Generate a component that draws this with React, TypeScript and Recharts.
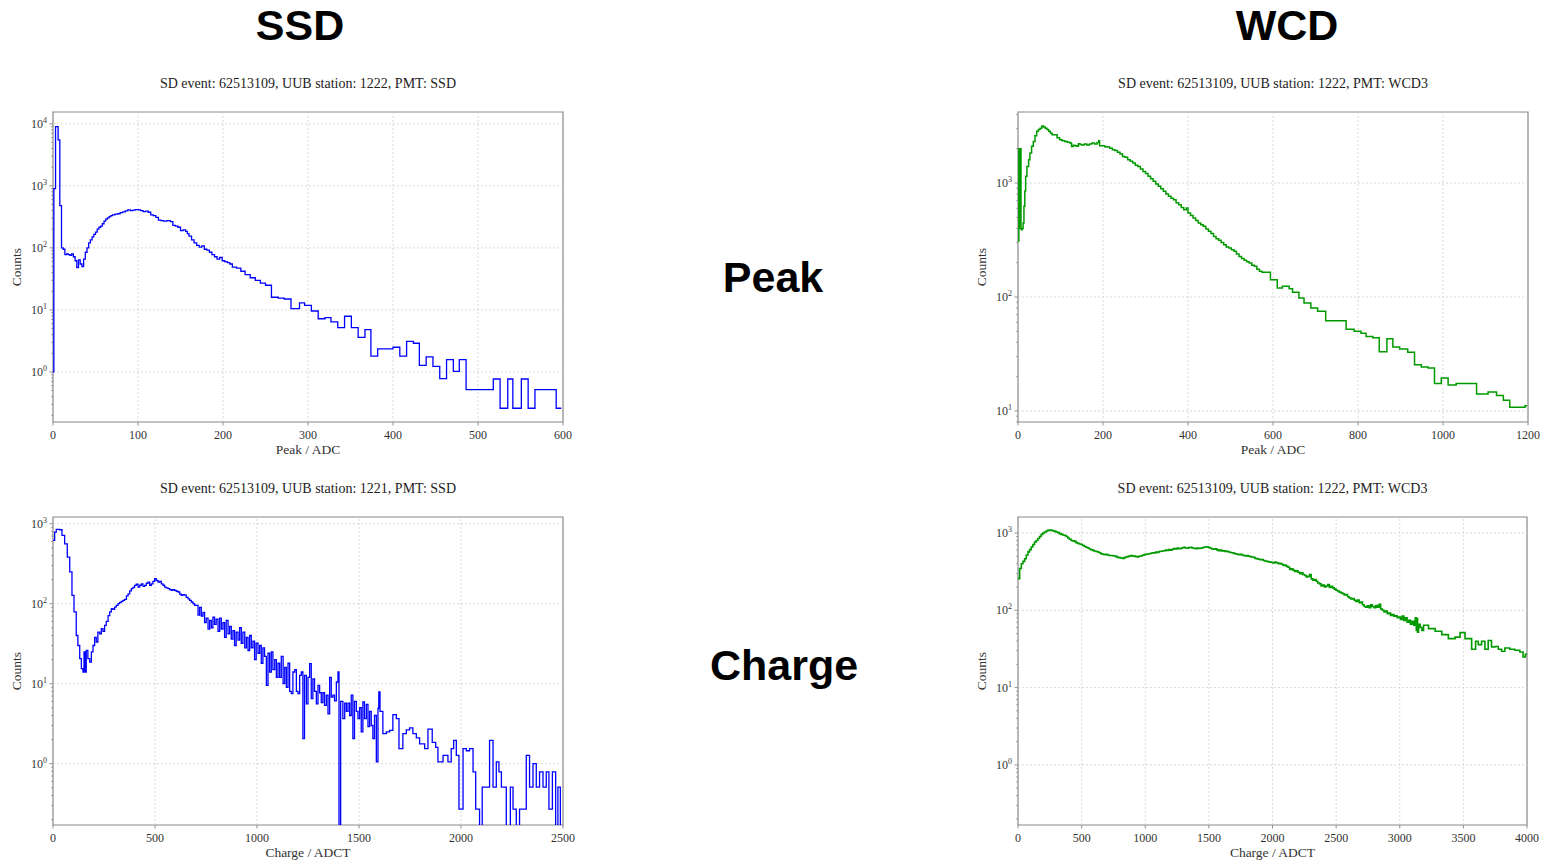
import React from "react";
import {
  Line,
  LineChart,
  ReferenceArea,
  ReferenceLine,
  XAxis,
  YAxis,
} from "recharts";

// ---- SSD peak histogram (bin start, counts) ----
const ssdPeakStarts = [
  0, 1, 3, 6, 8, 10, 12, 14, 16, 18, 20, 22, 24, 26, 28, 30, 32, 34, 36, 38,
  40, 42, 44, 46, 48, 50, 52, 54, 56, 58, 60, 62, 64, 66, 68, 70, 73, 76, 79,
  82, 85, 88, 91, 94, 97, 100, 103, 106, 109, 112, 115, 118, 121, 124, 127,
  130, 134, 138, 141, 144, 147, 150, 153, 156, 158, 160, 163, 166, 169, 172,
  175, 178, 181, 184, 187, 190, 193, 196, 199, 202, 205, 208, 211, 216, 221,
  226, 232, 238, 244, 250, 257, 265, 272, 280, 290, 296, 304, 312, 320, 327,
  335, 343, 351, 359, 367, 374, 382, 400, 408, 416, 424, 431, 439, 447, 455,
  463, 471, 478, 486, 518, 526, 535, 541, 551, 559, 567, 592, 598,
];
const ssdPeakCounts = [
  1, 900, 9000, 5500, 480, 100, 95, 78, 80, 78, 76, 80, 72, 62, 48, 64, 55, 50,
  66, 85, 100, 120, 135, 150, 165, 180, 200, 215, 225, 245, 270, 290, 305, 320,
  330, 340, 350, 355, 370, 380, 395, 410, 400, 405, 415, 410, 400, 385, 390,
  375, 340, 330, 310, 280, 275, 270, 275, 265, 230, 225, 215, 190, 195, 185,
  170, 155, 135, 120, 110, 103, 108, 95, 92, 85, 78, 72, 66, 70, 62, 60, 58,
  55, 49, 47, 42, 37, 33, 30, 27, 25, 16, 15.5, 15, 10.5, 13, 11.8, 9.6, 7.2,
  7.5, 6.4, 5.2, 7.9, 5.2, 3.6, 4.8, 1.8, 2.35, 2.5, 1.8, 3.1, 2.9, 1.28, 1.75,
  1.23, 0.78, 1.58, 1.02, 1.58, 0.52, 0.77, 0.26, 0.77, 0.26, 0.77, 0.26, 0.52,
  0.26, 0.26,
];

// ---- WCD peak histogram ----
const wcdPeakStarts = [
  0, 2, 3, 4, 5, 6, 7, 8, 10, 12, 14, 16, 18, 21, 25, 28, 32, 36, 40, 44, 48,
  52, 56, 60, 64, 68, 72, 76, 80, 86, 92, 98, 104, 110, 116, 122, 126, 130,
  134, 138, 142, 146, 150, 156, 162, 168, 174, 180, 186, 190, 192, 198, 204,
  210, 216, 222, 228, 234, 240, 246, 252, 258, 264, 270, 276, 282, 288, 294,
  300, 306, 312, 318, 324, 330, 336, 342, 348, 354, 360, 366, 372, 378, 384,
  390, 396, 400, 406, 412, 418, 424, 430, 436, 442, 448, 454, 460, 466, 472,
  478, 484, 490, 496, 502, 508, 514, 520, 526, 532, 538, 544, 550, 556, 562,
  568, 574, 583, 594, 610, 622, 638, 646, 661, 673, 689, 705, 724, 772, 791,
  807, 819, 835, 850, 868, 882, 898, 917, 933, 949, 965, 980, 996, 1012, 1031,
  1079, 1106, 1126, 1142, 1157, 1193, 1198,
];
const wcdPeakCounts = [
  310, 2000, 400, 2000, 420, 2000, 400, 390, 400, 445, 624, 850, 1144, 1400,
  1600, 1830, 2100, 2320, 2600, 2840, 2950, 3030, 3170, 3100, 3030, 2950, 2840,
  2750, 2650, 2650, 2500, 2400, 2350, 2320, 2280, 2240, 2090, 2150, 2120, 2100,
  2210, 2180, 2160, 2200, 2160, 2200, 2240, 2200, 2270, 2350, 2120, 2120, 2080,
  2070, 2020, 1960, 1930, 1860, 1800, 1710, 1680, 1600, 1550, 1500, 1430, 1400,
  1330, 1265, 1210, 1144, 1090, 1035, 980, 935, 890, 845, 800, 764, 735, 714,
  670, 646, 610, 583, 603, 545, 520, 493, 470, 445, 430, 417, 395, 377, 360,
  340, 325, 314, 300, 288, 275, 269, 260, 252, 238, 227, 218, 210, 204, 199,
  190, 186, 175, 168, 165, 165, 142, 120, 124, 118, 110, 98, 88.5, 80, 75, 62,
  52, 50, 48, 45, 44, 33, 43, 36.5, 35, 32.7, 25.5, 24.3, 23.8, 17.4, 19.5,
  16.9, 17.4, 14.1, 14.7, 13.7, 12.4, 10.8, 11.1, 11.1,
];

// ---- SSD charge histogram (0 = empty bin) ----
const ssdChargeStarts = [
  0, 8, 16, 33, 44, 57, 70, 82, 93, 103, 114, 122, 131, 139, 147, 152, 158,
  163, 171, 180, 188, 196, 204, 212, 220, 229, 237, 245, 253, 261, 270, 278,
  286, 294, 302, 310, 319, 327, 335, 343, 351, 360, 368, 376, 384, 392, 400,
  408, 417, 425, 433, 441, 449, 457, 466, 474, 482, 490, 498, 506, 515, 523,
  531, 539, 547, 555, 564, 572, 580, 588, 596, 604, 613, 621, 629, 637, 645,
  653, 662, 670, 678, 686, 694, 702, 711, 719, 727, 735, 743, 751, 760, 768,
  776, 784, 792, 800, 809, 817, 825, 833, 841, 849, 858, 866, 874, 882, 890,
  898, 907, 915, 923, 931, 940, 948, 956, 964, 972, 980, 988, 996, 1005, 1013,
  1021, 1029, 1037, 1046, 1054, 1062, 1070, 1078, 1087, 1095, 1103, 1111, 1119,
  1128, 1136, 1144, 1152, 1160, 1168, 1176, 1185, 1193, 1201, 1209, 1217, 1225,
  1233, 1242, 1250, 1258, 1266, 1274, 1282, 1291, 1299, 1307, 1315, 1323, 1331,
  1340, 1348, 1356, 1364, 1372, 1380, 1389, 1397, 1402, 1410, 1421, 1430, 1438,
  1446, 1454, 1462, 1470, 1478, 1487, 1495, 1503, 1511, 1519, 1527, 1536, 1544,
  1552, 1560, 1568, 1576, 1585, 1593, 1597, 1603, 1617, 1634, 1650, 1666, 1683,
  1696, 1715, 1732, 1748, 1764, 1781, 1797, 1822, 1838, 1859, 1876, 1887, 1912,
  1936, 1952, 1964, 1977, 1990, 2010, 2026, 2042, 2059, 2072, 2091, 2104, 2140,
  2157, 2173, 2186, 2198, 2222, 2242, 2255, 2271, 2287, 2320, 2336, 2353, 2369,
  2385, 2402, 2418, 2431, 2448, 2464, 2475, 2487, 2500,
];
const ssdChargeCounts = [
  620, 787, 850, 840, 714, 560, 383, 250, 127, 79, 40, 30, 20.6, 15.4, 14, 24.9,
  14, 26, 20.6, 18.6, 25, 30, 38, 33, 44, 42, 48.7, 45, 53.6, 60, 71, 79, 87,
  85, 90.8, 95, 100, 104, 107, 110, 113, 125, 133, 145, 154, 160, 169, 175, 161,
  170, 177, 165, 169, 180, 186, 170, 177, 190, 205, 195, 186, 190, 177, 170,
  161, 158, 154, 150, 147, 150, 147, 143, 140, 132, 127, 130, 128, 120, 115,
  110, 105, 100, 95.6, 95, 72, 90, 70, 78, 58, 66, 48, 62, 50, 68, 55, 64, 45,
  66, 48, 58, 38, 62, 42, 52, 36, 46, 30, 44, 35, 50, 32, 44, 28, 38, 26, 40,
  28, 34, 20, 32, 24, 30, 18, 28, 22, 9.5, 24, 14, 25, 15, 20, 12, 18, 12, 22,
  10, 16, 9, 18, 8, 7.5, 14, 15, 8, 7.5, 12.7, 14, 2.05, 12.7, 5.6, 12, 17.8,
  6.5, 11.5, 8, 5.6, 9.5, 7.7, 5.8, 7.7, 5.35, 7.2, 4.2, 12, 6.8, 7.2, 6.1,
  10.5, 14, 0, 6, 3.65, 5.7, 4.5, 5.7, 4, 7.2, 2.05, 6, 4.5, 3.65, 5, 2.5, 5.9,
  3.65, 5.5, 2.9, 4.5, 3, 2.05, 4, 1.05, 4.9, 7.9, 4.5, 2.37, 2.5, 2.6, 4.1,
  3.65, 1.54, 2.37, 2.65, 2.8, 2.37, 2.1, 1.77, 1.54, 2.7, 1.85, 1.6, 1.05,
  1.27, 1.05, 1.54, 1.96, 1.27, 0.27, 1.54, 1.45, 1.54, 0.79, 0.27, 0, 0.51,
  1.96, 0.51, 1.05, 0.79, 0.51, 0, 0.51, 0.27, 0, 0.27, 1.27, 0.51, 1, 0.51,
  0.79, 0.51, 0.79, 0.27, 0.79, 0, 0.51, 0, 0,
];

// ---- WCD charge histogram ----
const wcdChargeStarts = [
  0, 13, 26, 39, 52, 65, 78, 91, 104, 117, 130, 143, 156, 169, 182, 195, 208,
  221, 234, 247, 260, 273, 286, 299, 312, 325, 339, 352, 365, 378, 391, 404,
  417, 430, 443, 456, 469, 482, 495, 508, 521, 534, 547, 560, 573, 586, 599,
  612, 625, 638, 651, 664, 677, 690, 703, 716, 729, 742, 755, 768, 781, 794,
  807, 820, 833, 846, 859, 872, 885, 898, 911, 924, 937, 950, 963, 976, 990,
  1003, 1016, 1029, 1042, 1055, 1068, 1081, 1094, 1107, 1120, 1133, 1146, 1159,
  1172, 1185, 1198, 1211, 1224, 1237, 1250, 1263, 1276, 1289, 1302, 1315, 1328,
  1341, 1354, 1367, 1380, 1393, 1406, 1419, 1432, 1445, 1458, 1471, 1484, 1497,
  1510, 1523, 1536, 1549, 1562, 1575, 1589, 1602, 1615, 1628, 1641, 1654, 1667,
  1680, 1693, 1706, 1719, 1732, 1745, 1758, 1771, 1784, 1797, 1810, 1823, 1836,
  1849, 1862, 1875, 1888, 1901, 1914, 1927, 1940, 1953, 1966, 1979, 1992, 2005,
  2018, 2031, 2044, 2057, 2070, 2083, 2096, 2109, 2122, 2135, 2148, 2161, 2174,
  2187, 2200, 2213, 2226, 2239, 2252, 2265, 2278, 2291, 2304, 2317, 2330, 2343,
  2356, 2369, 2382, 2395, 2408, 2421, 2434, 2447, 2460, 2473, 2486, 2499, 2512,
  2525, 2538, 2551, 2564, 2577, 2590, 2603, 2616, 2629, 2642, 2655, 2668, 2681,
  2694, 2707, 2720, 2733, 2746, 2759, 2772, 2785, 2798, 2811, 2824, 2837, 2850,
  2863, 2876, 2889, 2902, 2915, 2928, 2941, 2954, 2967, 2980, 2993, 3006, 3019,
  3032, 3045, 3058, 3071, 3084, 3097, 3110, 3122, 3130, 3135, 3140, 3148, 3161,
  3174, 3187, 3226, 3278, 3330, 3382, 3435, 3474, 3513, 3565, 3596, 3617, 3643,
  3669, 3695, 3721, 3748, 3774, 3800, 3826, 3865, 3904, 3943, 3969, 3987, 4000,
];
const wcdChargeCounts = [
  257, 347, 400, 430, 465, 520, 570, 610, 660, 710, 764, 800, 850, 900, 960,
  1000, 1030, 1060, 1080, 1090, 1080, 1070, 1050, 1030, 1010, 980, 960, 940,
  930, 900, 860, 830, 800, 790, 780, 750, 730, 720, 710, 690, 670, 655, 640,
  620, 608, 595, 585, 575, 568, 555, 540, 530, 525, 530, 520, 512, 512, 508,
  504, 495, 484, 480, 475, 470, 480, 490, 495, 505, 512, 500, 505, 495, 490,
  500, 505, 515, 525, 530, 535, 540, 546, 555, 550, 568, 560, 575, 580, 585,
  590, 600, 595, 610, 600, 615, 630, 620, 640, 625, 630, 645, 653, 640, 635,
  650, 653, 640, 635, 625, 640, 630, 635, 645, 653, 660, 665, 650, 635, 620,
  615, 625, 605, 590, 600, 585, 590, 575, 580, 568, 560, 555, 545, 540, 530,
  525, 530, 520, 512, 505, 512, 500, 495, 490, 485, 470, 465, 457, 450, 455,
  440, 435, 430, 425, 420, 415, 410, 420, 412, 400, 405, 395, 381, 385, 370,
  360, 338, 345, 330, 319, 325, 310, 298, 305, 290, 282, 270, 275, 290, 255,
  245, 250, 238, 225, 220, 206, 212, 200, 206, 215, 198, 205, 195, 188, 182,
  178, 172, 168, 164, 158, 160, 150, 144, 140, 142, 135, 130, 136, 125, 128,
  118, 112, 110, 114, 108, 118, 112, 108, 115, 110, 120, 104, 100, 95, 98,
  90.5, 92, 86, 88, 84, 85, 80, 82, 76, 84, 74, 80, 70, 74, 66, 72, 64, 80, 55,
  78, 52, 66, 60, 55, 64, 58, 53.5, 48.4, 43, 45, 51.4, 43, 31.3, 39.8, 36,
  39.8, 31.3, 40.6, 33.6, 34, 31.3, 29.5, 32.6, 31.3, 30.4, 28.9, 24.9, 27, 27,
];

const ssdPeakTicks = [0, 100, 200, 300, 400, 500, 600];
const wcdPeakTicks = [0, 200, 400, 600, 800, 1000, 1200];
const ssdChargeTicks = [0, 500, 1000, 1500, 2000, 2500];
const wcdChargeTicks = [0, 500, 1000, 1500, 2000, 2500, 3000, 3500, 4000];

const SERIF = "'Liberation Serif', 'DejaVu Serif', serif";
const SANS = "'Liberation Sans', Arial, sans-serif";
const EMPTY_BIN = 1e-3; // log axis cannot show 0, push it below the frame

function toSteps(starts: number[], counts: number[]) {
  return starts.map((x, i) => ({
    x,
    y: counts[i] > 0 ? counts[i] : EMPTY_BIN,
  }));
}

function logTicks(min: number, max: number) {
  const out: number[] = [];
  for (let e = Math.floor(Math.log10(min)); e <= Math.ceil(Math.log10(max)); e++) {
    for (let k = 1; k < 10; k++) {
      const v = k * Math.pow(10, e);
      if (v >= min && v <= max) out.push(v);
    }
  }
  return out;
}

function isDecade(v: number) {
  const e = Math.log10(v);
  return Math.abs(e - Math.round(e)) < 1e-6;
}

function YTick(props: any) {
  const { x, y, payload } = props;
  const v = payload.value;
  if (!isDecade(v)) {
    return <line x1={x - 2} x2={x} y1={y} y2={y} stroke="#777" strokeWidth={0.6} />;
  }
  return (
    <g>
      <line x1={x - 3.5} x2={x} y1={y} y2={y} stroke="#777" strokeWidth={0.8} />
      <text x={x - 6} y={y + 4} textAnchor="end" fontFamily={SERIF} fontSize={12} fill="#333">
        10
        <tspan dy={-5} fontSize={8}>
          {Math.round(Math.log10(v))}
        </tspan>
      </text>
    </g>
  );
}

function XTick(props: any) {
  const { x, y, payload } = props;
  return (
    <g>
      <line x1={x} x2={x} y1={y} y2={y + 3.5} stroke="#777" strokeWidth={0.8} />
      <text x={x} y={y + 17} textAnchor="middle" fontFamily={SERIF} fontSize={12} fill="#333">
        {payload.value}
      </text>
    </g>
  );
}

interface PanelProps {
  data: { x: number; y: number }[];
  color: string;
  width: number;
  left: number;
  top: number;
  plotW: number;
  plotH: number;
  xTicks: number[];
  yMin: number;
  yMax: number;
  title: string;
  xLabel: string;
}

function Panel({ data, color, width, left, top, plotW, plotH, xTicks, yMin, yMax, title, xLabel }: PanelProps) {
  const xMax = xTicks[xTicks.length - 1];
  const yTicks = logTicks(yMin, yMax);
  const decades = yTicks.filter(isDecade);
  const cx = left + plotW / 2;
  const label: React.CSSProperties = {
    position: "absolute",
    fontFamily: SERIF,
    color: "#333",
    whiteSpace: "nowrap",
    transform: "translate(-50%, -50%)",
  };

  return (
    <>
      <div style={{ ...label, left: cx, top: top - 28, fontSize: 14, color: "#222" }}>{title}</div>
      <div style={{ ...label, left: cx, top: top + plotH + 28, fontSize: 13.5 }}>{xLabel}</div>
      <div
        style={{
          ...label,
          left: left - 36,
          top: top + plotH / 2,
          fontSize: 13.5,
          transform: "translate(-50%, -50%) rotate(-90deg)",
        }}
      >
        Counts
      </div>
      <div style={{ position: "absolute", left: left - 53, top: top - 12 }}>
        <LineChart
          width={plotW + 53 + 17}
          height={plotH + 12 + 40}
          data={data}
          margin={{ top: 12, right: 17, left: 0, bottom: 0 }}
        >
          <XAxis
            dataKey="x"
            type="number"
            domain={[0, xMax]}
            ticks={xTicks}
            interval={0}
            allowDataOverflow
            axisLine={false}
            tickLine={false}
            tickSize={0}
            tickMargin={0}
            tick={<XTick />}
            height={40}
          />
          <YAxis
            scale="log"
            type="number"
            domain={[yMin, yMax]}
            ticks={yTicks}
            interval={0}
            allowDataOverflow
            axisLine={false}
            tickLine={false}
            tickSize={0}
            tickMargin={0}
            tick={<YTick />}
            width={53}
          />
          {xTicks.slice(1, -1).map((t) => (
            <ReferenceLine key={"x" + t} x={t} stroke="#d0d0d0" strokeWidth={0.8} strokeDasharray="2 2" />
          ))}
          {decades.map((t) => (
            <ReferenceLine key={"y" + t} y={t} stroke="#d0d0d0" strokeWidth={0.8} strokeDasharray="2 2" />
          ))}
          <Line
            type="stepAfter"
            dataKey="y"
            stroke={color}
            strokeWidth={width}
            dot={false}
            isAnimationActive={false}
          />
          <ReferenceArea x1={0} x2={xMax} y1={yMin} y2={yMax} fill="none" stroke="#888" strokeWidth={1.2} />
        </LineChart>
      </div>
    </>
  );
}

const bigTitle: React.CSSProperties = {
  position: "absolute",
  fontFamily: SANS,
  fontWeight: 700,
  fontSize: 43,
  color: "#000",
  transform: "translate(-50%, -50%)",
  whiteSpace: "nowrap",
};

export default function App() {
  return (
    <div style={{ position: "absolute", left: 0, top: 0, width: 1553, height: 864, background: "#fff", overflow: "hidden" }}>
      <div style={{ ...bigTitle, left: 300, top: 25 }}>SSD</div>
      <div style={{ ...bigTitle, left: 1287, top: 25 }}>WCD</div>
      <div style={{ ...bigTitle, left: 773, top: 277 }}>Peak</div>
      <div style={{ ...bigTitle, left: 784, top: 665 }}>Charge</div>

      <Panel
        data={toSteps(ssdPeakStarts, ssdPeakCounts)}
        color="#0000ff"
        width={1.3}
        left={53}
        top={112}
        plotW={510}
        plotH={310}
        xTicks={ssdPeakTicks}
        yMin={0.156}
        yMax={15500}
        title="SD event: 62513109, UUB station: 1222, PMT: SSD"
        xLabel="Peak / ADC"
      />
      <Panel
        data={toSteps(wcdPeakStarts, wcdPeakCounts)}
        color="#009a00"
        width={1.5}
        left={1018}
        top={112}
        plotW={510}
        plotH={310}
        xTicks={wcdPeakTicks}
        yMin={8.0}
        yMax={4200}
        title="SD event: 62513109, UUB station: 1222, PMT: WCD3"
        xLabel="Peak / ADC"
      />
      <Panel
        data={toSteps(ssdChargeStarts, ssdChargeCounts)}
        color="#0000ff"
        width={1.3}
        left={53}
        top={517}
        plotW={510}
        plotH={308}
        xTicks={ssdChargeTicks}
        yMin={0.171}
        yMax={1213}
        title="SD event: 62513109, UUB station: 1221, PMT: SSD"
        xLabel="Charge / ADCT"
      />
      <Panel
        data={toSteps(wcdChargeStarts, wcdChargeCounts)}
        color="#009a00"
        width={1.6}
        left={1018}
        top={517}
        plotW={509}
        plotH={308}
        xTicks={wcdChargeTicks}
        yMin={0.167}
        yMax={1610}
        title="SD event: 62513109, UUB station: 1222, PMT: WCD3"
        xLabel="Charge / ADCT"
      />
    </div>
  );
}
